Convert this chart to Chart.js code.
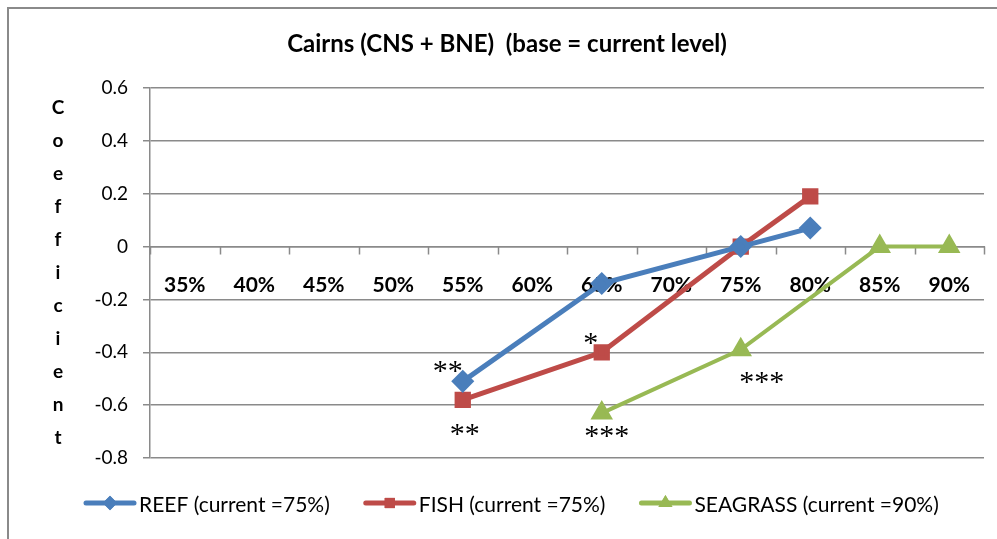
<!DOCTYPE html>
<html>
<head>
<meta charset="utf-8">
<script src="https://cdn.jsdelivr.net/npm/chart.js@4"></script>
<style>
  html, body { margin: 0; padding: 0; background: #fff; }
  #wrap { position: relative; width: 997px; height: 539px; }
</style>
</head>
<body>
<div id="wrap"><canvas id="chart" width="997" height="539"></canvas></div>
<script>
var levels = ["35%", "40%", "45%", "50%", "55%", "60%", "65%", "70%", "75%", "80%", "85%", "90%"];
var reef = [null, null, null, null, -0.51, null, -0.14, null, 0, 0.07, null, null];
var fish = [null, null, null, null, -0.58, null, -0.40, null, 0, 0.19, null, null];
var seagrass = [null, null, null, null, null, null, -0.63, null, -0.39, null, 0, 0];
var seriesNames = ["REEF (current =75%)", "FISH (current =75%)", "SEAGRASS (current =90%)"];
var yTitle = "Coefficient";
var chartTitle = "Cairns (CNS + BNE)  (base = current level)";

// significance stars: dataset index, category, text, offset in px
var stars = [
  [0, "55%", "**", -15, -15],
  [1, "55%", "**", 2, 29],
  [1, "65%", "*", -11, -14],
  [2, "65%", "***", 5, 18],
  [2, "75%", "***", 21, 27]
];

var grey = "#8a8a8a";
var blue = "#4a7ebb", red = "#be4b48", green = "#98b954";

var extras = {
  id: "extras",
  beforeDraw: function (chart) {
    var ctx = chart.ctx;
    ctx.save();
    ctx.fillStyle = "#fff";
    ctx.fillRect(0, 0, chart.width, chart.height);
    ctx.strokeStyle = grey;
    ctx.lineWidth = 2;
    ctx.strokeRect(8, 8, chart.width + 20, chart.height + 20);
    ctx.restore();
  },
  beforeDatasetsDraw: function (chart) {
    // category boundary tick marks below the zero line
    var ctx = chart.ctx;
    var xs = chart.scales.x, ys = chart.scales.y;
    var y0 = ys.getPixelForValue(0);
    var half = (xs.getPixelForValue(1) - xs.getPixelForValue(0)) / 2;
    ctx.save();
    ctx.strokeStyle = grey;
    ctx.lineWidth = 1.5;
    ctx.beginPath();
    for (var i = 0; i <= levels.length; i++) {
      var x = Math.round(xs.getPixelForValue(0) - half + i * half * 2) + 0.5;
      ctx.moveTo(x, y0);
      ctx.lineTo(x, y0 + 8);
    }
    ctx.stroke();
    ctx.restore();
  },
  afterDraw: function (chart) {
    var ctx = chart.ctx;
    var area = chart.chartArea;
    var xs = chart.scales.x, ys = chart.scales.y;
    ctx.save();

    // title
    ctx.fillStyle = "#000";
    ctx.font = "bold 24px Lato, 'Open Sans', sans-serif";
    ctx.textAlign = "center";
    ctx.textBaseline = "middle";
    ctx.fillText(chartTitle, 507, 44);

    // vertical y-axis title, one letter per line
    ctx.font = "bold 19px Lato, 'Open Sans', sans-serif";
    var mid = (area.top + area.bottom) / 2;
    var step = 33;
    for (var i = 0; i < yTitle.length; i++) {
      ctx.fillText(yTitle[i], 58, mid + (i - (yTitle.length - 1) / 2) * step);
    }

    // stars
    ctx.font = "30px 'Liberation Serif', 'DejaVu Serif', serif";
    var sets = chart.data.datasets;
    stars.forEach(function (s) {
      var idx = levels.indexOf(s[1]);
      var v = sets[s[0]].data[idx];
      var px = xs.getPixelForValue(idx) + s[3];
      var py = ys.getPixelForValue(v) + s[4];
      ctx.fillText(s[2], px, py + 6);
    });

    // legend
    ctx.font = "21px Lato, 'Open Sans', sans-serif";
    ctx.textAlign = "left";
    var lx = 86, ly = 503;
    sets.forEach(function (ds, k) {
      ctx.strokeStyle = ds.borderColor;
      ctx.lineWidth = 5;
      ctx.lineCap = "round";
      ctx.beginPath();
      ctx.moveTo(lx, ly);
      ctx.lineTo(lx + 48, ly);
      ctx.stroke();
      ctx.fillStyle = ds.borderColor;
      Chart.helpers.drawPoint(ctx, {
        pointStyle: ds.pointStyle, radius: ds.pointRadius * 0.9, borderWidth: 0
      }, lx + 24, ly);
      ctx.fill();
      ctx.fillStyle = "#000";
      ctx.fillText(seriesNames[k], lx + 53, ly + 2);
      lx += 53 + ctx.measureText(seriesNames[k]).width + 36;
    });
    ctx.restore();
  }
};

new Chart("chart", {
  type: "line",
  data: {
    labels: levels,
    datasets: [
      { label: seriesNames[0], data: reef, borderColor: blue, backgroundColor: blue,
        pointStyle: "rectRot", pointRadius: 8, borderWidth: 5 },
      { label: seriesNames[1], data: fish, borderColor: red, backgroundColor: red,
        pointStyle: "rect", pointRadius: 8, borderWidth: 5 },
      { label: seriesNames[2], data: seagrass, borderColor: green, backgroundColor: green,
        pointStyle: "triangle", pointRadius: 9, borderWidth: 4 }
    ]
  },
  options: {
    responsive: false,
    animation: false,
    spanGaps: true,
    layout: { padding: { left: 0, top: 88, right: 12, bottom: 81 } },
    elements: {
      line: { tension: 0 },
      point: { borderWidth: 0, hoverRadius: 8 }
    },
    scales: {
      x: {
        type: "category",
        position: { y: 0 },
        offset: true,
        grid: { display: false },
        border: { display: true, color: grey, width: 1.5 },
        ticks: {
          autoSkip: false,
          maxRotation: 0,
          padding: 18,
          color: "#000",
          font: { family: "Lato, 'Open Sans', sans-serif", size: 21, weight: "bold" }
        }
      },
      y: {
        min: -0.8,
        max: 0.6,
        afterFit: function (scale) { scale.width = 150; },
        grid: { color: grey, lineWidth: 1.5, tickLength: 7 },
        border: { display: true, color: grey, width: 1.5 },
        ticks: {
          stepSize: 0.2,
          padding: 15,
          color: "#000",
          font: { family: "Lato, 'Open Sans', sans-serif", size: 19 },
          callback: function (v) { return Math.round(v * 10) / 10; }
        }
      }
    },
    plugins: {
      legend: { display: false },
      title: { display: false },
      tooltip: { enabled: false }
    }
  },
  plugins: [extras]
});
</script>
</body>
</html>
